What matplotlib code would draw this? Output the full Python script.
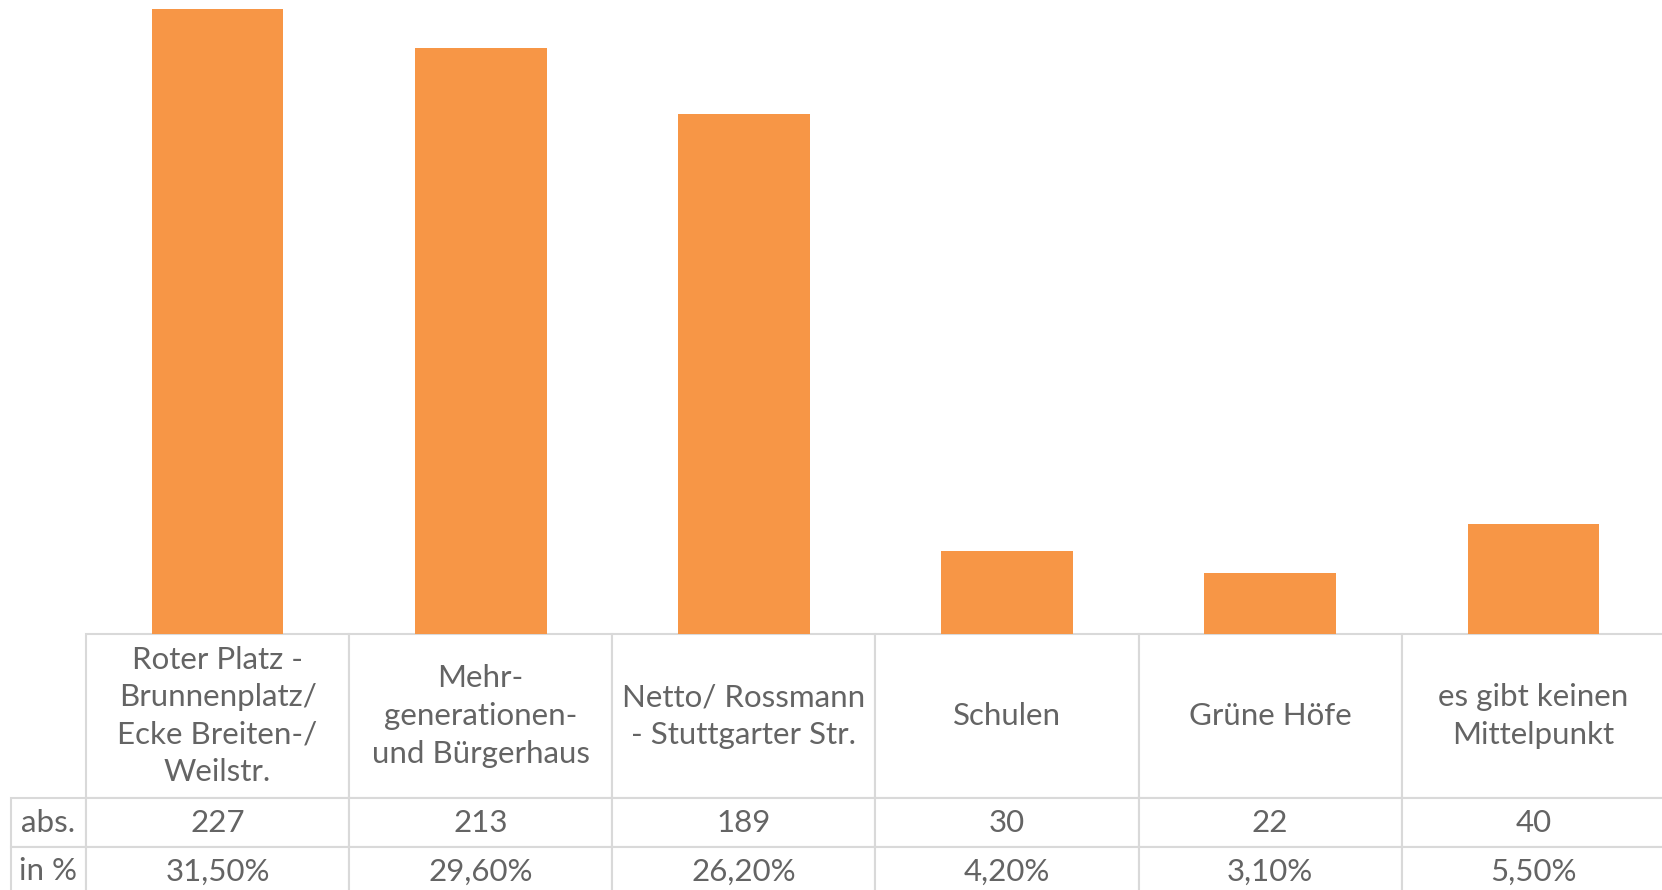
import matplotlib
import matplotlib.pyplot as plt

matplotlib.use("Agg")
plt.rcParams["font.family"] = ["Lato", "DejaVu Sans"]

categories = [
    "Roter Platz -\nBrunnenplatz/\nEcke Breiten-/\nWeilstr.",
    "Mehr-\ngenerationen-\nund Bürgerhaus",
    "Netto/ Rossmann\n- Stuttgarter Str.",
    "Schulen",
    "Grüne Höfe",
    "es gibt keinen\nMittelpunkt",
]
abs_values = [227, 213, 189, 30, 22, 40]
pct_labels = ["31,50%", "29,60%", "26,20%", "4,20%", "3,10%", "5,50%"]
row_labels = ["abs.", "in %"]

BAR_COLOR = "#F79646"
TEXT_COLOR = "#646464"
GRID_COLOR = "#D9D9D9"

W, H = 1662, 890
fig = plt.figure(figsize=(W / 100, H / 100), dpi=100)

# axes in pixel terms: left edge of first category column to beyond the right edge
ax_left, ax_right, ax_bottom = 86, 1665, 634
ax_w = ax_right - ax_left
ax = fig.add_axes([ax_left / W, (H - ax_bottom) / H, ax_w / W, ax_bottom / H])

x = list(range(len(abs_values)))
ax.bar(x, abs_values, width=0.5, color=BAR_COLOR)
ax.set_xlim(-0.5, len(abs_values) - 0.5)
ax.set_ylim(0, 230.4)
ax.axis("off")

# data table under the bars, first column holds the row labels
head_h, row_h = 164, 49
col_w = ax_w / len(abs_values)
label_w = 75.4
tab_h = (head_h + 2 * row_h) / ax_bottom
tab_x0 = -label_w / ax_w

cell_text = [[row_labels[0]] + [str(v) for v in abs_values],
             [row_labels[1]] + pct_labels]
tbl = ax.table(
    cellText=cell_text,
    colLabels=[""] + categories,
    cellLoc="center",
    colLoc="center",
    bbox=[tab_x0, -tab_h, 1 - tab_x0, tab_h],
)
tbl.auto_set_font_size(False)
tbl.set_fontsize(22.5)
for (r, c), cell in tbl.get_celld().items():
    cell.set_edgecolor(GRID_COLOR)
    cell.set_linewidth(1.5)
    cell.get_text().set_color(TEXT_COLOR)
    cell.set_height(head_h if r == 0 else row_h)
    cell.set_width(label_w if c == 0 else col_w)
    if c == 0:
        cell._loc = "left"
        cell.PAD = 0.08
        if r == 0:
            cell.visible_edges = ""
    if r == 0:
        cell.get_text().set_linespacing(1.42)
tbl.set_clip_on(False)

fig.savefig("out.png", dpi=100)
